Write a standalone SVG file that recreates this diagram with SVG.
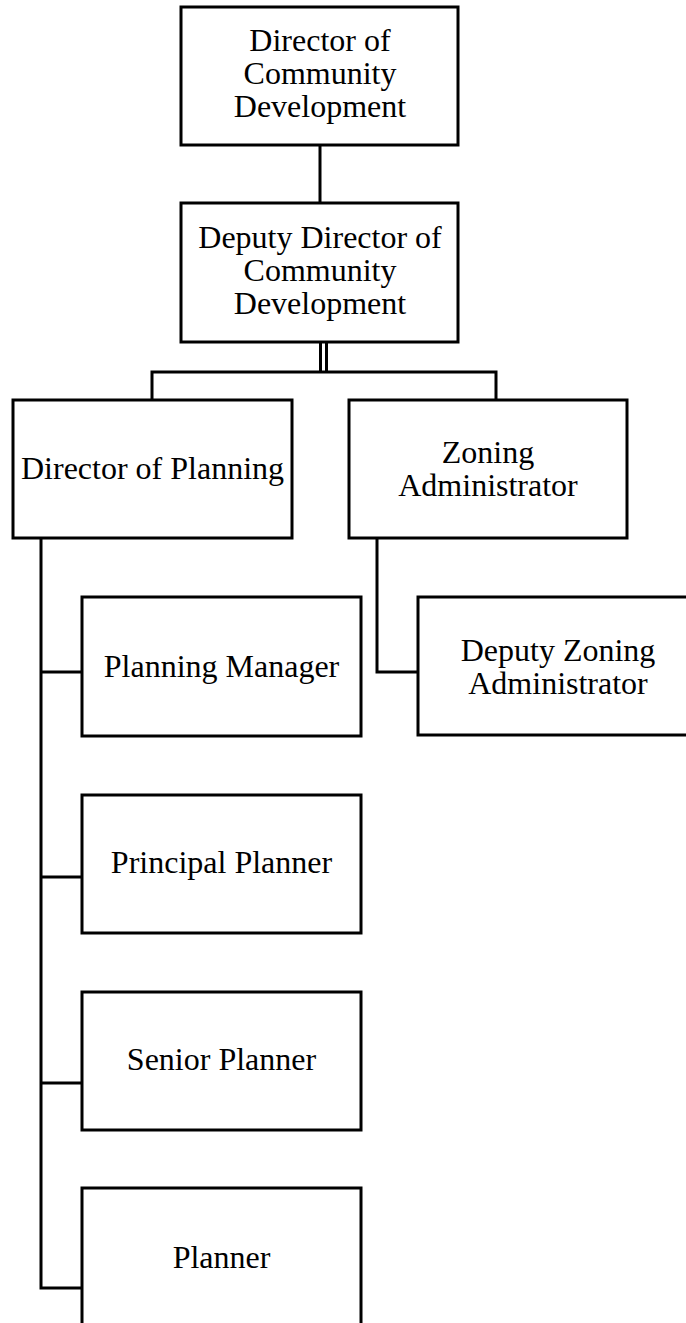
<svg xmlns="http://www.w3.org/2000/svg" width="686" height="1323" viewBox="0 0 686 1323">
<style>
.box{fill:#fff;stroke:#000;stroke-width:3}
.lbl{font-family:"Liberation Serif","Times New Roman",serif;font-size:32px;fill:#000;text-anchor:middle}
.ln{fill:none;stroke:#000;stroke-width:3}
</style>
<rect width="686" height="1323" fill="#fff"/>
<g id="connectors">
<line class="ln" x1="320" y1="145" x2="320" y2="203"/>
<line class="ln" x1="320.5" y1="342" x2="320.5" y2="372"/>
<line class="ln" x1="326.5" y1="342" x2="326.5" y2="372"/>
<polyline class="ln" points="152,400 152,372 496,372 496,400"/>
<polyline class="ln" points="41,538 41,1288 82,1288"/>
<line class="ln" x1="41" y1="672" x2="82" y2="672"/>
<line class="ln" x1="41" y1="877" x2="82" y2="877"/>
<line class="ln" x1="41" y1="1083" x2="82" y2="1083"/>
<polyline class="ln" points="377,538 377,672 418,672"/>
</g>
<g id="n1">
<rect class="box" x="181" y="7" width="277" height="138"/>
<text class="lbl" x="320" y="51">Director of</text>
<text class="lbl" x="320" y="84">Community</text>
<text class="lbl" x="320" y="117">Development</text>
</g>
<g id="n2">
<rect class="box" x="181" y="203" width="277" height="139"/>
<text class="lbl" x="320" y="248">Deputy Director of</text>
<text class="lbl" x="320" y="281">Community</text>
<text class="lbl" x="320" y="314">Development</text>
</g>
<g id="n3">
<rect class="box" x="13" y="400" width="279" height="138"/>
<text class="lbl" x="152.5" y="479">Director of Planning</text>
</g>
<g id="n4">
<rect class="box" x="349" y="400" width="278" height="138"/>
<text class="lbl" x="488" y="463">Zoning</text>
<text class="lbl" x="488" y="496">Administrator</text>
</g>
<g id="n5">
<rect class="box" x="82" y="597" width="279" height="139"/>
<text class="lbl" x="221.5" y="677">Planning Manager</text>
</g>
<g id="n6">
<rect class="box" x="418" y="597" width="280" height="138"/>
<text class="lbl" x="558" y="661">Deputy Zoning</text>
<text class="lbl" x="558" y="694">Administrator</text>
</g>
<g id="n7">
<rect class="box" x="82" y="795" width="279" height="138"/>
<text class="lbl" x="221.5" y="873">Principal Planner</text>
</g>
<g id="n8">
<rect class="box" x="82" y="992" width="279" height="138"/>
<text class="lbl" x="221.5" y="1070">Senior Planner</text>
</g>
<g id="n9">
<rect class="box" x="82" y="1188" width="279" height="138"/>
<text class="lbl" x="221.5" y="1268">Planner</text>
</g>
</svg>
